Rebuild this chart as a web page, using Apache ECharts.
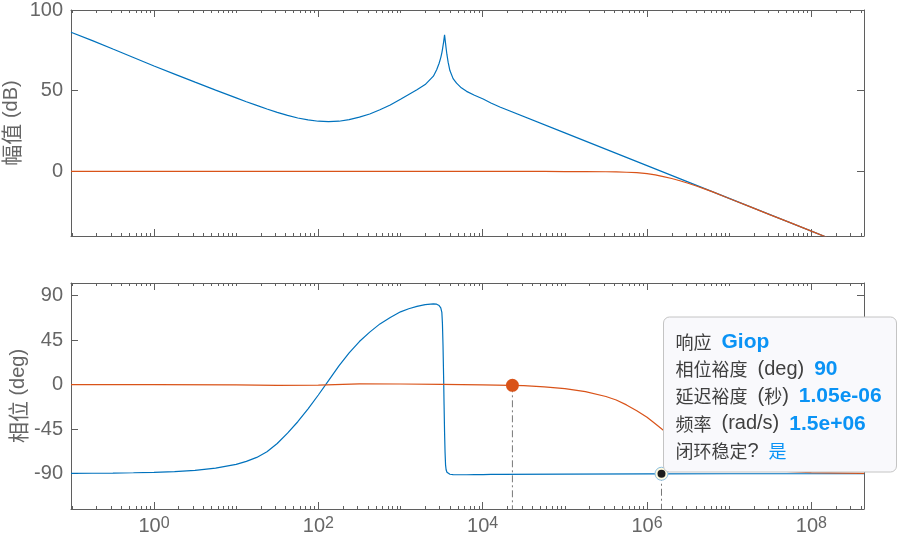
<!DOCTYPE html>
<html>
<head>
<meta charset="utf-8">
<title>Giop bode</title>
<script src="https://cdn.jsdelivr.net/npm/echarts@6.0.0/dist/echarts.min.js"></script>
<style>
  html, body { margin: 0; padding: 0; background: #fff; }
  #chart { width: 901px; height: 546px; }
</style>
</head>
<body>
<div id="chart"></div>
<script>
(function () {
  'use strict';

  // open loop Giop (rad/s, dB, deg)
  const giopFreq = [
    0.0977, 0.178, 0.316, 0.562, 1, 1.78, 3.16, 5.62,
    10, 13.3, 17.8, 23.7, 31.6, 42.2, 56.2, 75,
    100, 133, 178, 237, 316, 422, 562, 750,
    1000, 1259, 1585, 1995, 2512, 2754, 2951, 3090,
    3184, 3236, 3289, 3350, 3388, 3436, 3483, 3532,
    3589, 3673, 3802, 3990, 4365, 4808, 5495, 6368,
    7943, 10140, 12590, 16180, 1e5, 1e6, 1e7, 1e8,
    4.37e8
  ];
  const giopMag = [
    86.2, 81.0, 75.8, 70.6, 65.3, 60.3, 55.3, 50.4,
    45.6, 43.2, 40.9, 38.7, 36.6, 34.7, 33.1, 31.9,
    31.1, 30.8, 31.1, 32.1, 33.6, 35.6, 38.2, 41.2,
    44.7, 47.7, 50.6, 53.8, 59.0, 63.0, 67.0, 70.5,
    73.5, 75.5, 77.8, 80.3, 82.3, 84.6, 82.0, 79.3,
    76.3, 72.3, 67.5, 62.5, 57.5, 54.7, 51.8, 49.6,
    47.2, 44.9, 42.4, 39.9, 23.9, 3.6, -16.7, -37.0,
    -50.0
  ];
  const giopPhase = [
    -89.6, -89.5, -89.3, -89.0, -88.6, -87.8, -86.6, -84.4,
    -80.6, -77.5, -73.5, -67.8, -59.5, -49.0, -37.5, -24.5,
    -10.5, 4, 19, 32, 43.5, 53, 61.3, 67.8,
    73.5, 76.6, 79, 80.7, 81.5, 81.2, 79.8, 77.5,
    73, 62, 40, 5, -20, -48, -68, -81,
    -86, -88.5, -89.6, -90.5, -90.9, -91, -91, -91,
    -90.9, -90.8, -90.7, -90.6, -90.3, -90.1, -90, -90,
    -90
  ];

  // closed loop
  const closedFreq = [
    0.0977, 1, 10, 31.6, 100, 316, 1000, 3162,
    1e4, 3.16e4, 5.62e4, 1e5, 1.78e5, 3.16e5, 4.22e5, 5.62e5,
    7.5e5, 1e6, 1.26e6, 1.58e6, 2e6, 2.51e6, 3.16e6, 3.98e6,
    5.01e6, 6.31e6, 1e7, 1.78e7, 3.16e7, 5.62e7, 1e8, 4.37e8
  ];
  const closedMag = [
    0, 0, 0, 0, 0, 0, 0, 0,
    0, 0, 0, -0.1, -0.1, -0.2, -0.3, -0.5,
    -0.8, -1.4, -2.1, -3.2, -4.4, -5.8, -7.3, -9.0,
    -10.8, -12.7, -16.8, -21.8, -26.9, -31.9, -37.0, -50.0
  ];
  const closedPhase = [
    0, 0, -0.2, -0.8, -0.6, 0.8, 0.6, 0.2,
    -0.3, -1.1, -2.2, -4, -7, -12, -15.5, -20.5,
    -26.3, -33, -39.5, -46, -52.5, -58.5, -64, -68.5,
    -72.5, -76, -81, -84.5, -86.5, -88, -88.8, -89.7
  ];

  // axes
  const freqRange = [0.0977, 4.37e8];
  const freqLabelExps = [0, 2, 4, 6, 8];
  const magRange = [-40, 100];
  const magTicks = [0, 50, 100];
  const phaseRange = [-125.6, 102.6];
  const phaseTicks = [-90, -45, 0, 45, 90];

  // data tips
  const closedTip = [2.3e4, -0.7];
  const marginTip = [1.5e6, -90];
  const tipLines = [
    '{c|响应}{g| }{v|Giop}',
    '{c|相位裕度}{g| }{l|(deg)}{g| }{v|90}',
    '{c|延迟裕度}{g| }{l|(}{c|秒}{l|)}{g| }{v|1.05e-06}',
    '{c|频率}{g| }{l|(rad/s)}{g| }{v|1.5e+06}',
    '{c|闭环稳定}{l|?}{g| }{vc|是}'
  ];

  const BLUE = '#0072BD';
  const ORANGE = '#D95319';
  const AXIS = '#5f5f5f';
  const TEXT = '#666666';
  const LATIN = 'Liberation Sans, Arial, sans-serif';
  const CJK = 'Noto Sans CJK SC, sans-serif';

  const lg = Math.log10;
  const xMin = lg(freqRange[0]);
  const xMax = lg(freqRange[1]);
  const toXY = (freq, vals) => freq.map((f, i) => [lg(f), vals[i]]);

  const minorTicks = [];
  for (let k = -2; k <= 9; k++) {
    for (let m = 1; m <= 9; m++) {
      if (m === 1 && k % 2 === 0) continue;
      const v = k + lg(m);
      if (v >= xMin && v <= xMax) minorTicks.push(v);
    }
  }

  /* -------------------------------------------------------------------------- */
  /*                                   Axes                                     */
  /* -------------------------------------------------------------------------- */

  const xAxisFor = (gridIndex, position, ticks, len, showLine, labels) => ({
    type: 'value',
    gridIndex,
    position,
    min: xMin,
    max: xMax,
    axisLine: { show: showLine, onZero: false, lineStyle: { color: AXIS, width: 1 } },
    axisTick: { show: true, inside: true, length: len, customValues: ticks, lineStyle: { color: AXIS } },
    axisLabel: labels
      ? {
          show: true,
          margin: 7,
          customValues: freqLabelExps,
          formatter: v => `{b|10}{s|${Math.round(v)}}`,
          rich: {
            b: { fontFamily: LATIN, fontSize: 20, color: TEXT, lineHeight: 20, verticalAlign: 'bottom' },
            s: { fontFamily: LATIN, fontSize: 16, color: TEXT, lineHeight: 16, verticalAlign: 'top', padding: [0, 0, 10, 0] }
          }
        }
      : { show: false },
    splitLine: { show: false }
  });

  const yAxisFor = (gridIndex, position, range, ticks, labels, name, gap) => ({
    type: 'value',
    gridIndex,
    position,
    min: range[0],
    max: range[1],
    axisLine: { show: true, onZero: false, lineStyle: { color: AXIS, width: 1 } },
    axisTick: { show: true, inside: true, length: 7, customValues: ticks, lineStyle: { color: AXIS } },
    axisLabel: labels
      ? { show: true, margin: 8, customValues: ticks, fontFamily: LATIN, fontSize: 20, color: TEXT }
      : { show: false },
    splitLine: { show: false },
    name: name || '',
    nameLocation: 'middle',
    nameGap: gap || 0,
    nameMoveOverlap: false,
    nameTextStyle: {
      fontFamily: LATIN,
      fontSize: 20,
      color: TEXT,
      rich: {
        c: { fontFamily: CJK, fontSize: 21, color: TEXT },
        l: { fontFamily: LATIN, fontSize: 20, color: TEXT }
      }
    }
  });

  const lineSeries = (xi, yi, data, color, z) => ({
    type: 'line',
    xAxisIndex: xi,
    yAxisIndex: yi,
    data,
    symbol: 'none',
    silent: true,
    clip: true,
    z: z || 2,
    lineStyle: { color, width: 1.2 }
  });

  const dropLine = (tip, z) => ({
    type: 'line',
    xAxisIndex: 4,
    yAxisIndex: 2,
    data: [[lg(tip[0]), tip[1]], [lg(tip[0]), phaseRange[0]]],
    symbol: 'none',
    silent: true,
    z,
    lineStyle: { color: '#777777', width: 1, type: [7, 3, 2, 3] }
  });

  const tipRich = {
    c: { fontFamily: CJK, fontSize: 18, fill: '#404040' },
    l: { fontFamily: LATIN, fontSize: 20, fill: '#404040' },
    g: { fontFamily: LATIN, fontSize: 20, width: 10 },
    v: { fontFamily: LATIN, fontSize: 21, fontWeight: 'bold', fill: '#0a93f5' },
    vc: { fontFamily: CJK, fontSize: 18, fill: '#0a93f5' }
  };

  const option = {
    animation: false,
    backgroundColor: '#ffffff',
    grid: [
      { left: 71, right: 37, top: 10, height: 226, containLabel: false, outerBoundsMode: 'none' },
      { left: 71, right: 37, top: 283, height: 226, containLabel: false, outerBoundsMode: 'none' }
    ],
    xAxis: [
      xAxisFor(0, 'bottom', freqLabelExps, 7, true, false),
      xAxisFor(0, 'bottom', minorTicks, 3, false, false),
      xAxisFor(0, 'top', freqLabelExps, 7, true, false),
      xAxisFor(0, 'top', minorTicks, 3, false, false),
      xAxisFor(1, 'bottom', freqLabelExps, 7, true, true),
      xAxisFor(1, 'bottom', minorTicks, 3, false, false),
      xAxisFor(1, 'top', freqLabelExps, 7, true, false),
      xAxisFor(1, 'top', minorTicks, 3, false, false)
    ],
    yAxis: [
      yAxisFor(0, 'left', magRange, magTicks, true, '{c|幅值} {l|(dB)}', 49),
      yAxisFor(0, 'right', magRange, magTicks, false),
      yAxisFor(1, 'left', phaseRange, phaseTicks, true, '{c|相位} {l|(deg)}', 42),
      yAxisFor(1, 'right', phaseRange, phaseTicks, false)
    ],
    series: [
      lineSeries(0, 0, toXY(giopFreq, giopMag), BLUE),
      lineSeries(0, 0, toXY(closedFreq, closedMag), ORANGE),
      lineSeries(4, 2, toXY(giopFreq, giopPhase), BLUE),
      lineSeries(4, 2, toXY(closedFreq, closedPhase), ORANGE),
      dropLine(closedTip, 3),
      dropLine(marginTip, 3),
      {
        type: 'scatter', xAxisIndex: 4, yAxisIndex: 2, silent: true, z: 5,
        data: [[lg(closedTip[0]), closedTip[1]]],
        symbolSize: 13,
        itemStyle: { color: ORANGE, opacity: 1 }
      },
      {
        type: 'scatter', xAxisIndex: 4, yAxisIndex: 2, silent: true, z: 6,
        data: [[lg(marginTip[0]), marginTip[1]]],
        symbolSize: 13,
        itemStyle: { color: '#fffbe0', borderColor: '#8cc0e4', borderWidth: 1, opacity: 1 }
      },
      {
        type: 'scatter', xAxisIndex: 4, yAxisIndex: 2, silent: true, z: 7,
        data: [[lg(marginTip[0]), marginTip[1]]],
        symbolSize: 8,
        itemStyle: { color: '#1c1c1c', opacity: 1 }
      }
    ],
    graphic: [
      {
        type: 'group',
        x: 663.5,
        y: 317,
        z: 100,
        silent: true,
        children: [
          {
            type: 'rect',
            z: 100,
            shape: { x: 0, y: 0, width: 233, height: 155, r: 6 },
            style: { fill: '#f9f9fc', stroke: '#c4c4c4', lineWidth: 1 }
          }
        ].concat(tipLines.map((t, i) => ({
          type: 'text',
          z: 101,
          x: 12,
          y: 25 + i * 27.3,
          style: {
            text: t,
            rich: tipRich,
            font: '20px ' + LATIN,
            fill: '#404040',
            verticalAlign: 'middle'
          }
        })))
      }
    ]
  };

  const chart = echarts.init(document.getElementById('chart'), null, { renderer: 'canvas' });
  chart.setOption(option);
})();
</script>
</body>
</html>
